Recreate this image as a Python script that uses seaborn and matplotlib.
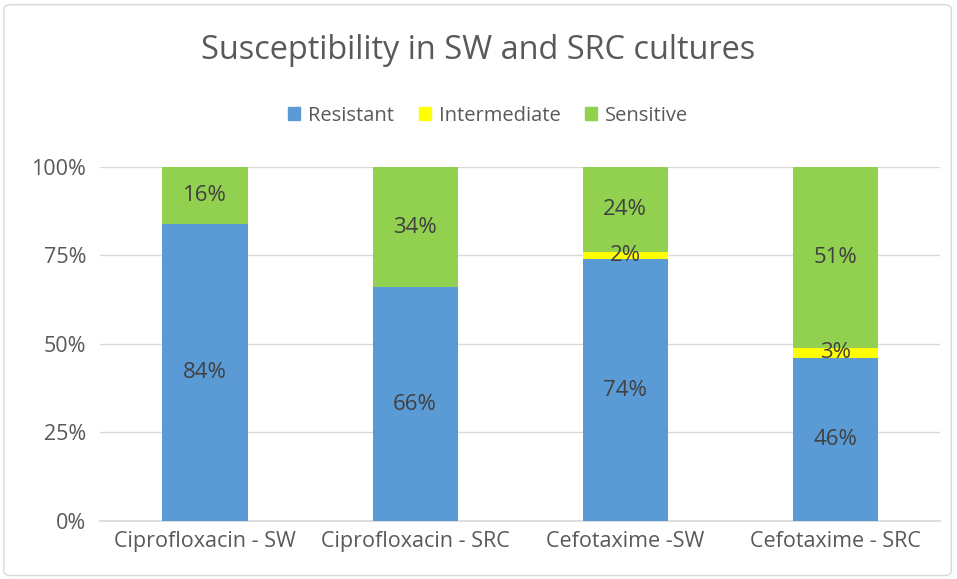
import numpy as np
import pandas as pd
import matplotlib
matplotlib.use('Agg')
import matplotlib.pyplot as plt
import seaborn as sns
from matplotlib.patches import Patch, FancyBboxPatch

# data (percent)
categories   = ['Ciprofloxacin - SW', 'Ciprofloxacin - SRC', 'Cefotaxime -SW', 'Cefotaxime - SRC']
resistant    = [84, 66, 74, 46]
intermediate = [0, 0, 2, 3]
sensitive    = [16, 34, 24, 51]
yticks       = [0, 25, 50, 75, 100]

C_RES, C_INT, C_SEN = '#5B9BD5', '#FFFF00', '#92D050'
TXT = '#595959'

df = pd.DataFrame({'cat': categories, 'R': resistant, 'I': intermediate, 'S': sensitive})
df['top_I'] = df['R'] + df['I']
df['top_S'] = df['top_I'] + df['S']

sns.set_theme(style='white')
plt.rcParams['font.family'] = ['Open Sans', 'DejaVu Sans']

fig = plt.figure(figsize=(9.57, 5.79), dpi=100)
ax = fig.add_axes([0.1045, 0.1002, 0.878, 0.6114])

# stacked bars: draw totals back to front
for col, c in [('top_S', C_SEN), ('top_I', C_INT), ('R', C_RES)]:
    sns.barplot(data=df, x='cat', y=col, color=c, width=0.405, ax=ax,
                saturation=1, zorder=3, order=categories, linewidth=0, edgecolor='none')

ax.set_ylim(0, 100)
ax.set_xlim(-0.5, 3.5)
ax.set_yticks(yticks)
ax.set_yticklabels([f'{v}%' for v in yticks], fontsize=15.5, color=TXT)
ax.tick_params(axis='x', labelsize=15.5, colors=TXT, length=0, pad=7)
ax.tick_params(axis='y', length=0, pad=10)
ax.set_xlabel(''); ax.set_ylabel('')
ax.yaxis.grid(True, color='#D9D9D9', lw=1, zorder=0)
for s in ['top', 'right', 'left']:
    ax.spines[s].set_visible(False)
ax.spines['bottom'].set_color('#D9D9D9')

# segment labels
for i in range(len(categories)):
    segs = [(0, resistant[i]), (resistant[i], intermediate[i]),
            (resistant[i] + intermediate[i], sensitive[i])]
    for b, h in segs:
        if h > 0:
            ax.text(i, b + h / 2, f'{h}%', ha='center', va='center',
                    fontsize=16, color='#404040', zorder=5)

fig.text(0.5, 0.912, 'Susceptibility in SW and SRC cultures', ha='center', va='center',
         fontsize=23.4, color=TXT)
handles = [Patch(color=C_RES, label='Resistant'), Patch(color=C_INT, label='Intermediate'),
           Patch(color=C_SEN, label='Sensitive')]
fig.legend(handles=handles, loc='center', bbox_to_anchor=(0.51, 0.8), ncol=3, frameon=False,
           fontsize=14.5, handlelength=0.6, handleheight=0.6, columnspacing=1.2, handletextpad=0.4,
           labelcolor=TXT)

fig.patches.append(FancyBboxPatch((0.004, 0.006), 0.99, 0.986, boxstyle='round,pad=0,rounding_size=0.008',
                                  transform=fig.transFigure, fill=False, ec='#D9D9D9', lw=1))

fig.savefig('out.png', dpi=100)
